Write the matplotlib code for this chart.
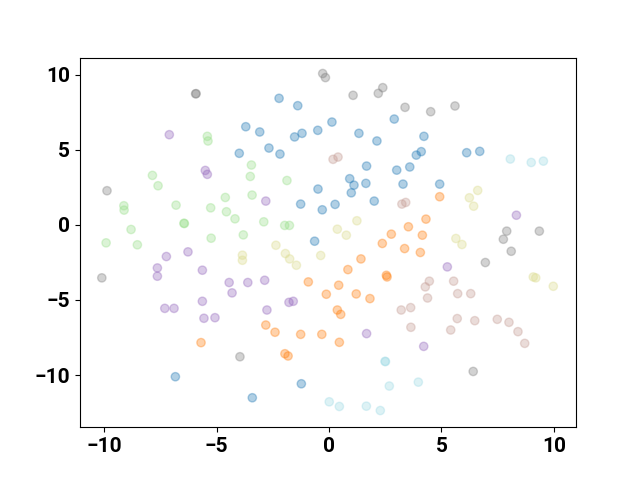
import numpy as np
import matplotlib
matplotlib.use('Agg')
import matplotlib.pyplot as plt

# cluster 0 (blue)
x0 = [-2.22, -1.39, -3.7, -3.08, -1.53, -1.2, -0.5, 0.13, 2.9, 1.33, 2.13, -2.67, -3.99, -2.18,
      4.22, 4.1, 3.88, 1.67, 3.01, 3.59, 0.92, 1.64, 3.29, 4.92, 1.11, 0.99, 0.27, 2.01,
      6.12, 6.7, -0.49, -1.26, -0.3, -0.64, -6.83, -1.23, -3.41]
y0 = [8.42, 7.93, 6.53, 6.18, 5.85, 6.09, 6.29, 6.84, 7.04, 6.09, 5.58, 5.11, 4.76, 4.71,
      5.89, 4.87, 4.64, 3.91, 3.64, 3.85, 3.07, 2.76, 2.71, 2.71, 2.64, 2.13, 1.36, 1.58,
      4.8, 4.89, 2.38, 1.38, 1.0, -1.09, -10.11, -10.58, -11.51]
# cluster 1 (orange)
x1 = [-0.92, -0.12, 4.92, 4.31, 3.53, 4.15, 2.77, 2.37, 3.36, 4.06, 1.42, 0.84, 2.55, 2.58,
      0.43, 1.21, 1.82, 0.37, 0.52, 0.46, -2.81, -2.4, -1.26, -0.32, -1.96, -1.82, -5.69]
y1 = [-3.8, -4.62, 1.87, 0.38, -0.13, -0.69, -0.62, -1.24, -1.58, -1.84, -2.27, -2.98, -3.36, -3.47,
      -4.02, -4.6, -4.91, -5.67, -5.96, -7.82, -6.67, -7.15, -7.29, -7.29, -8.58, -8.73, -7.84]
# cluster 2 (green)
x2 = [-7.85, -7.6, -5.41, -5.38, -3.45, -3.5, -1.87, -9.12, -9.11, -6.8, -6.43, -6.45, -8.8,
      -9.91, -8.52, -4.61, -3.42, -5.26, -4.56, -4.18, -2.9, -1.97, -1.76, -3.81, -5.24]
y2 = [3.29, 2.6, 5.89, 5.58, 3.98, 3.22, 2.95, 1.27, 0.98, 1.31, 0.09, 0.1, -0.31,
      -1.2, -1.33, 1.82, 1.98, 1.13, 0.87, 0.4, 0.2, -0.04, -0.04, -0.67, -0.89]
# cluster 3 (purple)
x3 = [-7.1, -5.5, -5.41, -7.23, -6.27, -7.63, -7.63, -5.63, -5.63, -7.3, -6.89, -5.56, -5.07,
      -2.81, -4.44, -3.61, -2.86, -4.31, -1.78, -1.59, -2.76, 5.26, 8.33, 1.67, 4.21]
y3 = [6.0, 3.62, 3.36, -2.11, -1.8, -2.87, -3.42, -3.02, -5.09, -5.56, -5.56, -6.22, -6.18,
      1.58, -3.84, -3.84, -3.69, -4.53, -5.16, -5.09, -5.67, -2.8, 0.64, -7.24, -8.09]
# cluster 4 (brown)
x4 = [0.18, 0.4, 3.24, 3.41, 4.46, 4.28, 5.54, 4.38, 3.63, 3.21, 3.64, 5.41, 5.72, 6.3,
      5.7, 6.48, 7.48, 8.0, 8.4, 8.7]
y4 = [4.36, 4.51, 1.38, 1.49, -3.75, -4.13, -3.75, -4.87, -5.51, -5.67, -6.82, -7.0, -4.58, -4.58,
      -6.24, -6.38, -6.29, -6.49, -7.11, -7.89]
# cluster 5 (grey)
x5 = [-5.91, -5.93, -9.87, -10.1, -0.28, -0.16, 1.07, 2.39, 2.19, 3.38, 4.52, 5.6, 7.9, 9.35, 7.75,
      8.1, 6.95, 6.41, -3.96]
y5 = [8.73, 8.72, 2.27, -3.53, 10.07, 9.8, 8.62, 9.13, 8.75, 7.82, 7.53, 7.91, -0.42, -0.42, -0.96,
      -1.76, -2.51, -9.76, -8.78]
# cluster 6 (olive)
x6 = [-2.36, -3.85, -3.85, -1.94, -1.75, -1.45, -0.37, 1.24, 0.37, 0.77, 6.61, 6.24, 6.43,
      5.64, 5.91, 9.08, 9.19, 9.97]
y6 = [-1.36, -2.02, -2.36, -1.91, -2.27, -2.69, -2.04, 0.27, -0.29, -0.69, 2.29, 1.8, 1.24,
      -0.91, -1.31, -3.47, -3.53, -4.09]
# cluster 7 (cyan)
x7 = [8.06, 8.99, 9.53, 2.49, 2.51, 2.68, 3.97, 0.01, 0.46, 1.66, 2.28]
y7 = [4.38, 4.15, 4.24, -9.09, -9.1, -10.73, -10.47, -11.78, -12.09, -12.07, -12.36]

xs = [x0, x1, x2, x3, x4, x5, x6, x7]
ys = [y0, y1, y2, y3, y4, y5, y6, y7]

X = np.concatenate(xs)
Y = np.concatenate(ys)
labels = np.concatenate([[i] * len(a) for i, a in enumerate(xs)])

plt.rcParams['font.family'] = ['Roboto', 'DejaVu Sans']
plt.rcParams['font.weight'] = 'bold'
plt.rcParams['font.size'] = 15

fig = plt.figure(figsize=(6.4, 4.8), dpi=100)
plt.scatter(X, Y, c=labels, cmap='tab20', alpha=0.35)
plt.xlim(-11.07, 10.98)
plt.ylim(-13.47, 11.13)
plt.xticks([-10, -5, 0, 5, 10])
plt.yticks([-10, -5, 0, 5, 10])
plt.savefig('out.png')
